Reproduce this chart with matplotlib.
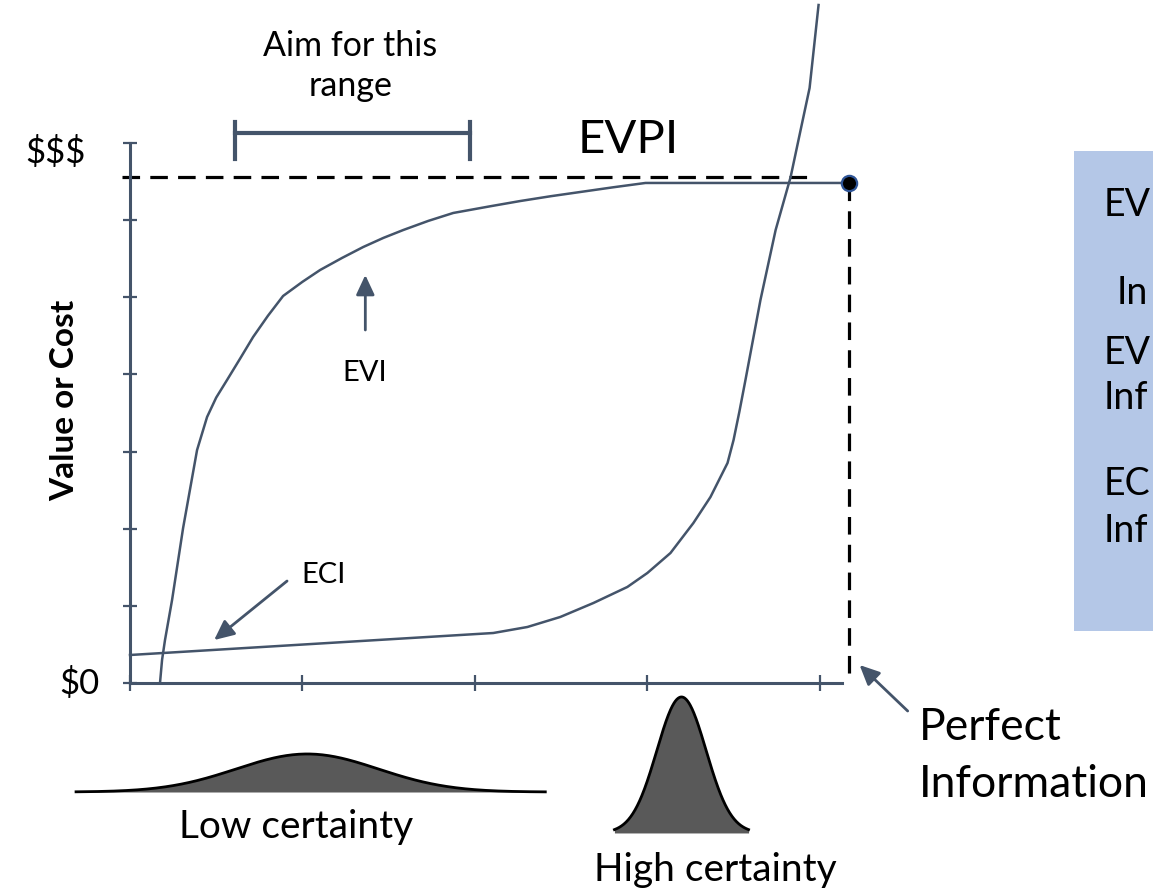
import numpy as np
import matplotlib
matplotlib.use('Agg')
import matplotlib.pyplot as plt
from matplotlib.patches import Rectangle

plt.rcParams['font.family'] = ['Lato', 'DejaVu Sans']

SLATE = '#44546A'
BELL_FILL = '#595959'
BOX_BLUE = '#B4C7E7'

# EVI curve: value of information vs. amount of information gathered
evi_x = [0.174, 0.186, 0.203, 0.244, 0.308, 0.389, 0.447, 0.500, 0.563, 0.640,
         0.714, 0.800, 0.888, 1.000, 1.103, 1.230, 1.353, 1.470, 1.585, 1.730,
         1.875, 2.090, 2.264, 2.440, 2.612, 2.800, 2.990, 4.168]
evi_y = [0.000, 0.300, 0.557, 1.076, 2.009, 3.020, 3.448, 3.700, 3.928, 4.210,
         4.485, 4.760, 5.017, 5.200, 5.354, 5.510, 5.652, 5.770, 5.872, 5.990,
         6.093, 6.180, 6.248, 6.310, 6.365, 6.425, 6.482, 6.482]

# ECI curve: cost of information
eci_x = [0.000, 2.107, 2.305, 2.496, 2.688, 2.885, 3.001, 3.135, 3.268, 3.367,
         3.466, 3.501, 3.535, 3.570, 3.657, 3.745, 3.832, 3.890, 3.942, 3.994]
eci_y = [0.363, 0.648, 0.726, 0.856, 1.037, 1.245, 1.426, 1.685, 2.074, 2.411,
         2.852, 3.150, 3.520, 3.928, 4.965, 5.872, 6.559, 7.169, 7.713, 8.789]

# perfect information point and EVPI level
perfect_x = 4.168
perfect_value = 6.482
evpi_level = 6.559

# target range on the x axis
aim_range = [0.610, 1.974]

# certainty bells: (centre, spread, height, baseline, left, right)
low_bell = (1.028, 0.412, 0.493, -1.413, -0.313, 2.409)
high_bell = (3.199, 0.143, 1.763, -1.944, 2.810, 3.588)

y_ticks = [0, 1, 2, 3, 4, 5, 6, 7]
x_ticks = [0, 1, 2, 3, 4]

# definitions panel (runs off the right edge)
box_lines = ['EV', 'In', 'EV', 'Inf', 'EC', 'Inf']
box_line_x = [5.650, 5.725, 5.650, 5.650, 5.650, 5.650]
box_line_y = [6.197, 5.056, 4.278, 3.694, 2.580, 1.971]


fig = plt.figure(figsize=(11.53, 8.92), dpi=100)
ax = fig.add_axes([130 / 1153, 209 / 892, 712 / 1153, 540 / 892])
ax.set_xlim(0, 4.13)
ax.set_ylim(0, 7)

for side in ['top', 'right']:
    ax.spines[side].set_visible(False)
for side in ['left', 'bottom']:
    ax.spines[side].set_color(SLATE)
    ax.spines[side].set_linewidth(2.2)
ax.set_xticks(x_ticks)
ax.set_yticks(y_ticks)
ax.set_xticklabels([])
ax.set_yticklabels([])
ax.tick_params(axis='y', direction='inout', length=10, width=1.6, color=SLATE)
ax.tick_params(axis='x', direction='inout', length=12, width=1.6, color=SLATE)

# curves
ax.plot(evi_x, evi_y, color=SLATE, lw=1.8, clip_on=False, zorder=3)
ax.plot(eci_x, eci_y, color=SLATE, lw=1.8, clip_on=False, zorder=3)

# EVPI dashed guides and perfect-information dot
ax.plot([-0.046, 3.96], [evpi_level, evpi_level], color='black', lw=2.3,
        dashes=(5.5, 3.2), clip_on=False, zorder=2)
ax.plot([perfect_x, perfect_x], [perfect_value, 0.06], color='black', lw=2.3,
        dashes=(5.5, 3.2), clip_on=False, zorder=2)
ax.plot([perfect_x], [perfect_value], 'o', ms=11, mfc='black', mec='#2F5597',
        mew=1.6, clip_on=False, zorder=5)

# range bracket
ax.plot(aim_range, [7.13, 7.13], color=SLATE, lw=3, clip_on=False)
for xb in aim_range:
    ax.plot([xb, xb], [6.79, 7.27], color=SLATE, lw=3, clip_on=False)

# arrows
arrow_kw = dict(arrowstyle='-|>,head_length=0.6,head_width=0.28', color=SLATE,
                lw=2, mutation_scale=20, shrinkA=0, shrinkB=0)
ax.annotate('', xy=(1.365, 5.289), xytext=(1.365, 4.576),
            arrowprops=arrow_kw, annotation_clip=False)
ax.annotate('', xy=(0.488, 0.557), xytext=(0.911, 1.322),
            arrowprops=arrow_kw, annotation_clip=False)
ax.annotate('', xy=(4.232, 0.233), xytext=(4.511, -0.363),
            arrowprops=arrow_kw, annotation_clip=False)

# certainty bells
for centre, spread, height, base, left, right in [low_bell, high_bell]:
    xs = np.linspace(left, right, 300)
    ys = base + height * np.exp(-0.5 * ((xs - centre) / spread) ** 2)
    ax.fill_between(xs, base, ys, color=BELL_FILL, lw=0, clip_on=False)
    ax.plot(xs, ys, color='black', lw=2, clip_on=False)

# labels
ax.text(-0.255, 6.88, '$$$', fontsize=25, ha='right', va='center')
ax.text(-0.174, 0.0, '$0', fontsize=25, ha='right', va='center')
ax.text(-0.377, 3.669, 'Value or Cost', fontsize=24, fontweight='bold',
        rotation=90, ha='center', va='center')
ax.text(2.891, 7.039, 'EVPI', fontsize=34, ha='center', va='center')
ax.text(1.277, 8.0, 'Aim for this\nrange', fontsize=24.5, ha='center',
        va='center', linespacing=1.3)
ax.text(1.364, 4.019, 'EVI', fontsize=21, ha='center', va='center')
ax.text(1.120, 1.400, 'ECI', fontsize=21, ha='center', va='center')
ax.text(0.964, -1.867, 'Low certainty', fontsize=28, ha='center', va='center')
ax.text(3.396, -2.424, 'High certainty', fontsize=28, ha='center', va='center')
ax.text(4.575, -0.739, 'Perfect', fontsize=32, ha='left', va='baseline')
ax.text(4.575, -1.478, 'Information', fontsize=32, ha='left', va='baseline')

# definitions box at the right
ax.add_patch(Rectangle((5.475, 0.674), 2.0, 6.222, facecolor=BOX_BLUE,
                       edgecolor='none', clip_on=False, zorder=0))
for line, xl, yl in zip(box_lines, box_line_x, box_line_y):
    ax.text(xl, yl, line, fontsize=27, ha='left', va='center')

fig.savefig('out.png', dpi=100, facecolor='white')
